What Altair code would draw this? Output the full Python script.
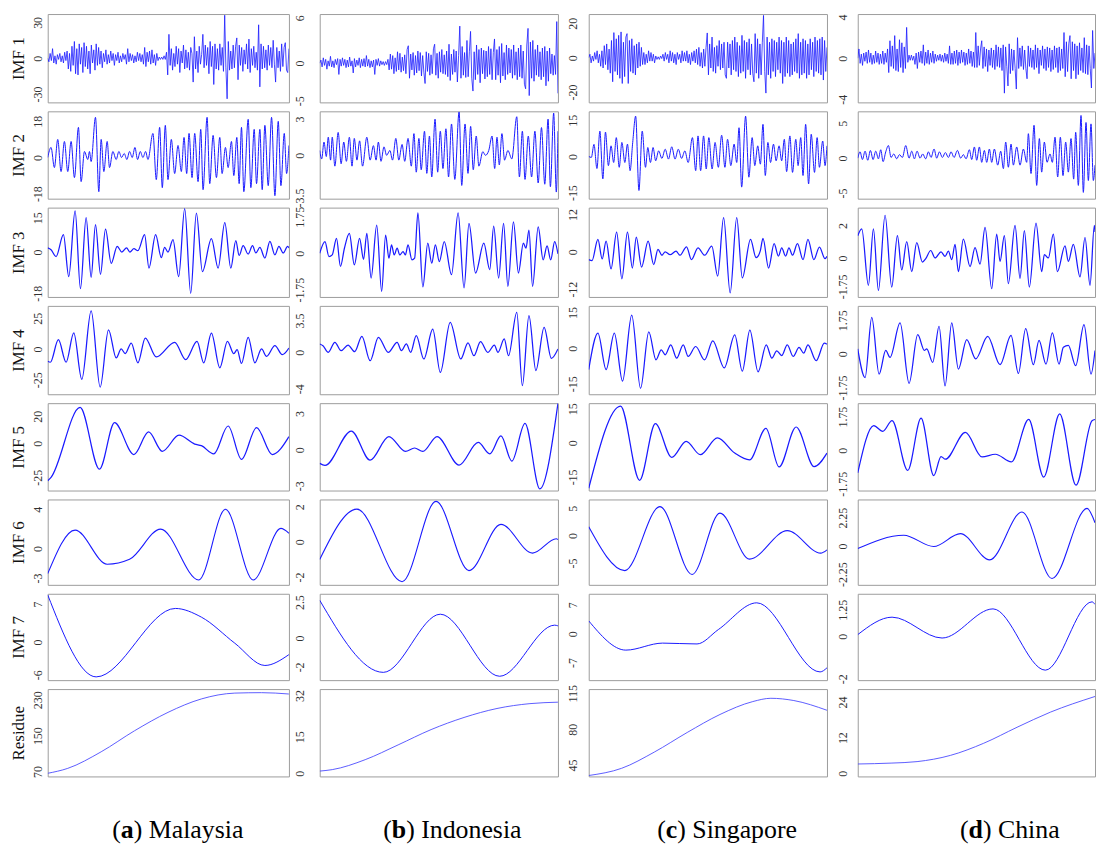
import altair as alt
import pandas as pd

# ---------------- Malaysia ----------------
MY_IMF1 = [0, -3, 4, -2, 8, -4, 2, -5, 3, -1, 4, -3, 2, -4, 5, -2, 6, -9, 4, -11,
           10, -6, 14, -13, 8, -14, 12, -5, 9, -12, 13, -7, 10, -9, 6, -13, 11, -4, 7, -10,
           12, -6, 9, -5, 6, -8, 4, -3, 7, -5, 3, -4, 6, -2, 4, -6, 3, -2, 5, -4,
           2, -3, 4, -1, 3, -5, 8, -3, 4, -2, 3, -4, 2, -3, 5, -2, 4, -3, 3, -5,
           9, -7, 5, -3, 6, -5, 7, -4, 3, -6, 4, -2, 1, -1, 1, -1, 2, -1, 5, -14,
           20, -6, 8, -10, 4, -7, 10, -5, 8, -12, 6, -4, 11, -9, 7, -8, 5, -10, 9, 4,
           -20, 18, -9, 6, -12, 10, -5, 3, 20, -8, 11, -6, 9, -13, 14, -7, 10, -22, 12, -9,
           8, -10, 12, -6, 9, -11, 36, -8, -34, 14, -10, 6, -9, 11, -8, 10, 17, -18, 11, -6,
           9, -11, 7, -5, 12, -9, 16, -12, 8, -6, 10, -8, 5, -10, 28, -24, 12, -9, 10, -8,
           7, -10, 11, -6, 9, -8, 15, -5, -20, 9, -8, 6, -11, 12, -7, 9, 13, -10, -12, 8]
MY_IMF2 = [(0, 0), (10, 5), (20, -5), (30, 9), (40, -7), (50, 8), (60, -7), (70, 8), (80, -10),
           (92, 15), (100, -12), (110, 3), (120, -1), (125, 3), (130, -2), (143, 20), (153, -17),
           (160, 9), (168, -7), (178, 8), (185, -5), (195, 3), (205, -1), (213, 3), (221, 0),
           (229, 2), (237, -1), (245, 3), (253, 0), (261, 5), (269, -1), (277, 3), (285, 0),
           (293, 3), (300, -1), (315, 12), (325, -11), (335, 15), (343, -15), (352, 16), (360, -11),
           (370, 9), (380, -8), (390, 6), (400, -7), (408, 10), (416, -8), (423, 12), (432, -10),
           (440, 12), (450, -12), (458, 14), (465, -16), (477, 20), (485, -13), (495, 11), (505, -10),
           (515, 10), (522, -8), (532, 5), (540, -5), (550, 8), (557, -9), (566, 10), (573, -13),
           (580, 15), (587, -17), (600, 19), (608, -15), (618, 14), (625, -13), (635, 14), (642, -16),
           (650, 16), (660, -14), (670, 20), (680, -19), (690, 18), (698, -14), (708, 12), (715, -8),
           (722, 6)]
MY_IMF3 = [(0, 1.8), (10, 1), (25, -2), (47, 7.6), (63, -10.7), (82, 18), (98, -16), (115, 15),
           (130, -11), (143, 12), (158, -9.7), (173, 10), (190, -4.9), (208, 2.5), (222, 0), (236, 1.8),
           (246, 0), (258, 1.5), (270, 0.6), (290, 7.6), (303, -7), (323, 7.6), (340, -2.4), (350, 2),
           (360, 0), (375, 5.4), (392, -10.7), (410, 19), (428, -18), (445, 17), (463, -8.5), (490, 5.9),
           (510, -7), (530, 12.8), (548, -7), (563, 5), (573, -1.5), (585, 2.8), (600, -0.9), (613, 2.8),
           (623, -0.4), (635, 2), (650, -2.6), (665, 4.7), (680, -1.2), (692, 2.5), (705, -0.4),
           (718, 2.5), (722, 1.8)]
MY_IMF4 = [(0, -10), (8, -10.8), (32, 7.5), (55, -10.8), (78, 13), (102, -24.7), (130, 31), (157, -31),
           (182, 15.6), (205, -7.3), (220, 0), (232, -3.8), (250, 4.8), (270, -11.3), (292, 8.9),
           (325, -6.5), (380, 5.4), (413, -8.6), (447, 6.2), (467, -11.3), (490, 12.9), (515, -15.3),
           (538, 6.2), (557, -3.8), (567, -0.5), (580, -11.8), (600, 9.4), (620, -11.3), (640, 0),
           (655, -6), (680, 2.7), (702, -4.6), (722, 0.8)]
MY_IMF5 = [(0, -27.5), (10, -25), (97, 26.5), (155, -19), (200, 15.2), (258, -8.2), (302, 8.4),
           (343, -5.8), (393, 6), (440, -0.5), (460, -1.7), (497, -7.7), (540, 12.8), (580, -11.8),
           (625, 11.6), (672, -8.2), (722, 5)]
MY_IMF6 = [(0, -2.56), (82, 1.88), (178, -1.6), (245, -1.1), (338, 1.98), (452, -3.2), (532, 4.0),
           (615, -3.2), (698, 2.05), (722, 1.56)]
MY_IMF7 = [(0, 8.7), (145, -6.4), (382, 6.2), (460, 4.6), (560, -0.2), (650, -4.3), (722, -2.3)]
MY_RES = [(0, 66), (60, 77), (160, 114), (260, 161), (360, 202), (460, 232), (560, 245), (640, 246),
          (722, 243)]
MY_TICKS = [[-30, 0, 30], [-18, 0, 18], [-18, 0, 15], [-25, 0, 25], [-25, 0, 20], [-3, 0, 4],
            [-6, 0, 7], [70, 150, 230]]
MY_YDOM = [[-37, 37], [-20.5, 23], [-19.6, 19.4], [-36.8, 35], [-34.7, 29.6], [-3.7, 5.0],
           [-7.0, 8.9], [59, 254]]
MY_TSPAN = 722

# ---------------- Indonesia ----------------
ID_IMF1 = [0, 0.4, -0.5, 0.7, -0.3, 0.5, -0.8, 0.3, -0.4, 0.9, -0.5, 0.3, -0.6, 0.5, -0.2, 0.6, -1.5, 0.5, -0.4, 0.7,
           -0.3, 0.5, -0.6, 0.4, -0.5, 0.8, -0.4, 0.3, -1.3, 0.6, -0.5, 0.4, -0.3, 0.7, -0.6, 0.5, -0.4, 0.6, -0.5, 1.0,
           -0.4, 0.5, -0.6, 0.3, -0.5, 0.4, -1.5, 0.5, -0.3, 0.6, -0.4, 0.3, -0.2, 0.2, -0.3, 0.2, -0.2, 0.5, -0.9, 1.2,
           -0.8, 1.0, -1.4, 0.7, -1.1, 1.5, -0.9, 1.3, -1.2, 0.8, -1.0, 1.1, -1.4, 1.8, 2.3, -2.0, 1.2, -0.9, 1.4, -1.6,
           1.0, -1.3, 1.6, -1.0, 1.4, -1.7, 1.0, -1.2, -2.7, 1.5, -1.1, 1.3, -1.6, 1.1, -1.4, 1.9, 2.5, -1.6, 1.3, -2.0,
           1.5, -1.2, 1.8, -1.4, 1.1, -1.5, 1.6, -1.8, 2.5, -2.3, 1.2, -1.5, 1.8, -1.2, 1.6, -2.5, 1.0, 4.9, -2.0, 2.2,
           -1.6, 1.4, -1.9, 3.0, -1.8, 1.5, 4.2, -2.0, -3.7, 1.5, -2.2, 2.4, -1.5, 1.8, -2.6, 2.0, -1.4, 1.7, -2.1, 1.6,
           -1.8, 2.2, -1.5, 1.9, -2.2, 1.4, 3.2, -2.2, 1.8, -1.6, 2.2, -2.6, 2.6, -1.7, 1.4, -2.2, 2.4, -1.5, 2.0, -1.3,
           1.8, -2.0, 2.4, -1.6, 1.5, -2.2, 2.0, -1.8, 2.4, -2.0, 1.6, -2.8, -3.4, 2.4, 4.6, -4.3, 2.8, -2.0, 3.0, -2.4,
           1.8, -1.6, 2.4, -1.8, 1.5, -2.2, 2.0, -1.8, 2.2, -3.0, 1.6, -2.4, 2.0, -1.4, 1.2, -1.6, 1.0, -1.5, 5.5, -4.0]
ID_IMF2 = [(0, 0.4), (6, -0.3), (13, 1.1), (20, -0.1), (26, 1.5), (33, -0.4), (38, 1.5), (46, -0.9),
           (56, 1.9), (65, -0.7), (73, 1.1), (81, -0.5), (90, 1.5), (98, -0.9), (105, 1.4), (113, -0.4),
           (121, 1.2), (130, -0.9), (143, 1.5), (153, -0.4), (163, 0.8), (171, -0.4), (178, 1.1),
           (186, -0.5), (195, 0.7), (203, 0), (213, 0.4), (221, -0.4), (231, 1.4), (240, -0.4),
           (250, 0.9), (258, -0.5), (268, 1.4), (278, -0.9), (286, 1.8), (293, -1.4), (301, 1.4),
           (308, -1.2), (318, 2.0), (325, -1.5), (333, 1.6), (340, -1.8), (350, 3.0), (358, -1.4),
           (366, 2.0), (374, -1.1), (383, 2.2), (391, -1.8), (400, 2.6), (410, -2.0), (423, 3.6),
           (431, -2.5), (441, 2.6), (450, -1.5), (458, 2.4), (466, -1.2), (475, 1.6), (483, -0.9),
           (495, 0.3), (503, 0), (513, 0.4), (523, 1.6), (531, -1.1), (538, 1.5), (545, -0.8),
           (553, 1.8), (561, -0.4), (571, 0.4), (583, -0.3), (598, 3.2), (606, -1.8), (615, 2.0),
           (623, -2.0), (633, 1.6), (643, -1.8), (653, 2.0), (663, -2.3), (673, 2.3), (683, -2.4),
           (693, 3.0), (700, -2.6), (710, 3.5), (718, -3.05), (723, 2.0)]
ID_IMF3 = [(0, 0), (16, 0.56), (28, -0.16), (38, -0.08), (51, 0.71), (63, -0.63), (75, 0.24),
           (90, 0.95), (105, -0.56), (121, 0.71), (133, -0.29), (143, 0.95), (156, -1.19), (173, 1.35),
           (188, -1.83), (200, 0.87), (210, -0.24), (218, 0.4), (226, -0.08), (235, 0.24), (243, -0.08),
           (253, 0.08), (260, -0.08), (268, 0.4), (280, -0.32), (288, -0.24), (298, 1.94), (313, -1.62),
           (328, 0.48), (340, -0.48), (351, 0.4), (363, -0.4), (378, 0.56), (400, -1.03), (420, 1.94),
           (438, -1.67), (453, 1.43), (473, -0.95), (498, 0.48), (516, -0.79), (528, 1.3), (543, -1.19),
           (558, 1.43), (571, -1.59), (588, 1.51), (603, -0.95), (618, 0.48), (626, 0.24), (635, 1.11),
           (646, -1.59), (663, 1.27), (678, -0.32), (690, 0.35), (701, -0.32), (713, 0.56), (723, -0.03)]
ID_IMF4 = [(0, 0.92), (10, 0.73), (26, 0), (46, 1.1), (65, 0.18), (86, 0.8), (106, 0.07), (128, 1.76),
           (153, -0.92), (178, 1.65), (208, 0), (235, 1.1), (248, 0.18), (263, 0.92), (276, 0),
           (293, 1.83), (316, -0.73), (343, 2.56), (366, -2.2), (396, 3.3), (428, -0.73), (450, 1.03),
           (468, -0.37), (488, 1.17), (510, 0), (530, 0.8), (541, 0), (560, 1.47), (573, -0.37),
           (598, 4.4), (615, -3.66), (635, 4.03), (656, -2.0), (681, 2.75), (703, -0.66), (723, 0.37)]
ID_IMF5 = [(0, -1.14), (16, -1.31), (96, 1.55), (153, -0.87), (210, 1.09), (260, -0.14), (288, 0.14),
           (313, -0.14), (356, 1.09), (423, -1.28), (481, 0.6), (516, -0.35), (550, 1.14), (583, -0.95),
           (623, 2.18), (668, -3.27), (723, 3.85)]
ID_IMF6 = [(0, -1.0), (113, 1.87), (250, -2.27), (353, 2.31), (453, -1.64), (550, 1.0), (646, -0.64),
           (718, 0.18), (723, 0.13)]
ID_IMF7 = [(0, 2.63), (193, -2.38), (366, 1.66), (546, -2.65), (713, 0.9), (723, 0.85)]
ID_RES = [(0, 0.9), (38, 1.5), (138, 5.6), (238, 11.7), (338, 18), (438, 23), (538, 26.7), (638, 28.7),
          (723, 29.3)]
ID_TICKS = [[-5, 0, 6], [-3.5, 0, 3], [-1.75, 0, 1.75], [-4, 0, 3.5], [-3, 0, 3], [-2, 0, 2],
            [-2, 0, 2.5], [0, 15, 32]]
ID_YDOM = [[-5.2, 6.5], [-3.6, 3.65], [-2.1, 2.19], [-4.6, 5.1], [-3.4, 3.87], [-2.45, 2.42],
           [-2.92, 3.08], [-1.3, 34.7]]
ID_TSPAN = 723

# ---------------- Singapore ----------------
SG_IMF1 = [0, 2, -3, 1, -2, 3, -1, 4, -3, 2, -5, 4, -6, 7, -4, 8, -7, 5, -9, 10,
           -14, 14.6, -8, 11, -10, 13, -12, 15, -15, 9, -11, 12, 14, -15, 10, -8, 11, -9, 7, -10,
           8, -6, 9, -5, 6, -4, 3, -4, 2, -3, 4, -2, 3, -2, 2, -3, 1, -1, 0.5, -1,
           1, -0.5, 2, -2, 3, -1, 2, -3, 4, -2, 3, -3, 2, -4, 3, -1, 2, -3, 4, -2,
           3, -2, 4, -3, 2, -4, 3, -2, 4, -3, 5, -4, 6, -5, 3, -6, 5, -5, 6, 14.4,
           -10, 8, -6, 12, -8, 6, -9, 7, -5, 10, -7, 8, -6, 9, -10, -12, 9, -6, 8, -10,
           10, -7, 12, -8, 9, -11, 7, -9, 13, -8, 10, -12, 9, -7, 11, -10, 8, -9, -14, 14,
           -9, 11, -12, 8, -10, 9, 24.6, -8, -20.6, 12, -10, 9, -12, 11, -8, 10, -11, 9, -7, 12,
           -9, 10, -15, 9, -11, 12, -9, 10, -11, 8, -10, 9, -8, 11, -9, 14, -12, 9, -10, 11,
           -9, 10, -12, 8, -10, 11, -7, 9, -11, 12, -8, 10, -9, 11, -10, 12, -13, 10, -8, 6]
SG_IMF2 = [(0, 0), (8, -0.4), (16, 5), (25, -5), (34, 10.5), (43, -9.3), (51, 10.1), (60, -3.8),
           (68, 4.4), (76, -2.5), (84, 7.8), (93, -4.5), (101, 5.8), (110, -2.5), (118, 5.1), (126, -5.9),
           (134, 5.8), (143, 16.7), (153, -14.1), (163, 10.5), (173, -4.5), (180, 3.7), (188, -2.5),
           (196, 3.7), (204, -1.8), (213, 2.3), (223, -0.8), (233, 3), (243, -1.1), (253, 4),
           (263, -1.1), (273, 3), (283, -0.8), (293, 2.3), (303, -2.5), (316, 7.8), (326, -5.9),
           (333, 8.5), (341, -5.9), (350, 8.5), (358, -5.2), (366, 7.8), (376, -5.2), (385, 5.8),
           (395, -4.5), (405, 8.8), (415, -4.5), (423, 7.1), (433, -3.8), (443, 5.1), (451, -2.5),
           (458, 11.9), (466, -12.7), (478, 16.7), (488, -8.6), (498, 7.8), (506, -3.8), (515, 4.4),
           (523, -3.2), (531, 13.3), (538, -7.9), (546, 5.8), (554, -2.5), (563, 5.1), (571, -1.8),
           (580, 4.4), (588, -1.8), (596, 7.1), (603, -6.3), (613, 8.5), (621, -6.6), (631, 7.1),
           (638, -3.8), (646, 7.8), (653, -7.9), (661, 13.3), (670, -11.4), (678, 9.2), (688, -6.6),
           (696, 7.8), (703, -4.5), (713, 6.4), (720, -3.8), (726, 4.4)]
SG_IMF3 = [(0, -2.5), (10, -2.8), (28, 4), (41, -2.3), (53, 3.4), (68, -5.5), (85, 6.3), (101, -8.7),
           (118, 6.3), (133, -5.2), (145, 4.7), (161, -4.9), (181, 3.4), (198, -4.1), (211, 0.8),
           (223, -1.1), (233, 0), (248, -0.9), (266, 0.2), (278, -1.1), (298, 1.6), (313, -2.5),
           (333, 1.3), (353, -1.1), (375, 1.8), (393, -7.8), (411, 11), (431, -13.2), (451, 11),
           (468, -8.4), (493, 4), (510, -1.9), (523, 0.4), (531, 4.3), (548, -5.2), (565, 2.6),
           (578, -1.4), (588, 1.3), (600, -1.4), (610, 1.3), (621, -1.1), (636, 2.6), (653, -2.5),
           (668, 4), (686, -2.5), (703, 1.5), (720, -2.2), (726, -1.4)]
SG_IMF4 = [(0, -9), (28, 6.3), (53, -9), (78, 6.3), (103, -13.9), (131, 13.9), (158, -16.9),
           (183, 6.9), (205, -4.9), (221, -0.7), (233, -2.8), (250, 1.4), (268, -4.2), (288, 1.4),
           (303, -3.5), (326, 0.7), (353, -4.9), (378, 3.1), (413, -8.3), (445, 5.6), (468, -9.7),
           (491, 7.6), (516, -10), (541, 1.4), (558, -4.2), (573, -1.1), (588, -3.1), (605, 1.4),
           (623, -3.5), (641, 0.3), (655, -2.1), (668, 1.4), (693, -5.3), (718, 2.1), (726, 1.7)]
SG_IMF5 = [(0, -20), (97, 16.2), (155, -16.5), (203, 8.5), (253, -6.4), (297, 0.7), (340, -5.2),
           (392, 2.2), (445, -4.5), (490, -7.5), (540, 6.4), (580, -10.6), (632, 7), (687, -10.5),
           (726, -4.5)]
SG_IMF6 = [(0, 1.6), (110, -6.4), (217, 5.3), (315, -7.1), (400, 4.1), (490, -4.3), (605, 0.9),
           (707, -3.2), (726, -2.6)]
SG_IMF7 = [(0, 3.1), (113, -4.0), (225, -2.3), (330, -2.5), (395, 1.0), (512, 7.5), (705, -9.3),
           (726, -8.3)]
SG_RES = [(0, 34.8), (100, 41.8), (200, 57.7), (300, 76.8), (400, 94.4), (500, 107), (555, 110.2),
          (625, 108), (726, 98.5)]
SG_TICKS = [[-20, 0, 20], [-15, 0, 15], [-12, 0, 12], [-15, 0, 15], [-15, 0, 15], [-5, 0, 5],
            [-7, 0, 7], [45, 80, 115]]
SG_YDOM = [[-26, 25.4], [-17.5, 18.7], [-14.5, 14.2], [-19.4, 17.8], [-21, 17.5], [-9, 6.6],
           [-11.3, 9.7], [33.9, 119.2]]
SG_TSPAN = 726

# ---------------- China ----------------
CN_IMF1 = [0, 0.9, -0.5, 0.4, -0.7, 0.5, -0.3, 0.6, -0.5, 0.8, -0.4, 0.5, -0.6, 0.3, -0.5, 0.7, -0.4, 0.5, -0.6, 0.4,
           -0.5, 0.7, -0.6, 0.5, -0.4, 0.9, -1.4, 1.7, -0.8, 1.2, -1.0, 2.2, -1.2, 0.9, -1.3, 1.8, -0.9, 1.5, -1.4, 1.1,
           -1.0, 3.0, -0.4, 0.3, -0.2, 0.3, -0.2, 0.2, -0.6, 0.5, -1.0, 0.6, -0.4, 0.7, -0.5, 1.3, -0.7, 0.6, -0.5, 0.8,
           -0.6, 0.5, -0.4, 0.7, -0.5, 0.4, -0.3, 0.3, -0.2, 0.4, -0.3, 0.3, -0.4, 0.5, -0.3, 0.4, -0.5, 1.2, -0.6, 0.5,
           -0.6, 0.7, -0.5, 0.8, -0.7, 0.6, -0.5, 0.8, -0.4, 0.6, -0.7, 0.5, -0.6, 0.9, -0.5, 0.7, -0.8, 0.6, -0.9, 2.5,
           -0.9, 1.2, -0.7, 0.9, 1.7, -1.0, 1.1, -0.8, 0.9, -1.3, 0.8, -0.7, 1.0, -0.9, 0.8, -1.1, 1.3, -0.8, 1.1, -0.9,
           1.0, -1.2, 1.3, -3.4, 1.1, -0.8, -2.7, 1.4, -1.5, 0.9, -1.2, 0.8, -1.0, -3.0, 2.0, -1.0, 1.0, -0.8, 1.2, -1.1,
           0.8, -1.0, -2.0, 1.2, -0.8, 1.0, -0.9, 0.8, -1.1, 1.3, -0.9, 1.0, -1.5, 0.8, -0.7, 1.2, -1.0, 0.9, -1.2, 1.1,
           -0.9, 1.0, -1.3, 0.8, -1.1, 1.2, -0.9, 1.0, -1.4, 1.1, -1.2, 0.9, -1.0, 2.5, -1.8, 1.6, -1.3, 1.4, 2.2, -2.0,
           1.6, -1.2, 1.4, -2.0, 1.2, -1.6, 1.5, -1.2, 1.0, -1.4, 2.0, -1.5, 1.3, -1.6, 1.2, -1.0, -2.9, 2.7, -1.0, 0.5]
CN_IMF2 = [(0, 0), (7, 0.9), (14, -0.2), (22, 1.0), (30, -0.3), (38, 1.1), (46, -0.2), (54, 1.0),
           (62, -0.1), (69, 1.2), (76, -0.5), (84, 0.9), (92, 1.8), (100, 0.1), (108, 0.6), (117, -0.1),
           (125, 0.5), (134, 0.1), (144, 1.8), (154, 0), (162, 1.0), (170, -0.1), (178, 1.0), (187, 0),
           (195, 0.6), (204, -0.1), (212, 0.9), (220, 0.1), (229, 1.3), (237, 0), (245, 0.9), (254, 0.1),
           (263, 0.8), (272, 0.1), (280, 0.9), (289, 0.1), (299, 1.1), (309, 0), (317, 0.5), (325, -0.1),
           (335, 1.2), (342, -0.2), (350, 1.6), (357, -0.3), (365, 1.6), (372, -0.6), (380, 1.1),
           (387, -0.6), (395, 1.3), (402, -0.6), (410, 1.3), (420, -1.0), (429, 1.0), (437, -1.5),
           (444, 2.3), (452, -1.3), (460, 2.0), (467, -1.0), (477, 1.6), (487, -1.0), (497, 1.3),
           (507, -0.6), (512, 3.5), (520, -2.2), (529, 4.7), (537, -3.9), (545, 2.8), (552, -2.0),
           (560, 2.3), (568, -0.6), (577, 0.6), (584, -0.6), (592, 3.0), (600, -2.7), (608, 3.0),
           (616, -2.5), (624, 2.3), (632, -2.0), (640, 2.8), (648, -3.0), (654, 3.7), (662, -3.9),
           (670, 6.1), (677, -4.9), (685, 5.1), (692, -3.2), (700, 4.9), (707, -3.2), (712, -1.0)]
CN_IMF3 = [(0, 1.37), (12, 1.79), (32, -1.68), (47, 1.79), (62, -2.0), (82, 2.63), (102, -1.79),
           (119, 1.37), (132, -0.74), (147, 1.0), (162, -0.84), (177, 0.95), (194, -0.25), (204, -0.04),
           (219, 0.46), (232, 0), (250, 0.38), (262, 0.1), (272, 0.42), (282, -0.1), (292, 0.84),
           (302, -0.84), (317, 1.16), (337, -0.53), (352, 0.63), (367, -0.38), (382, 1.89), (402, -1.89),
           (417, 1.47), (427, -0.21), (440, 1.37), (452, -1.58), (472, 2.0), (487, -1.26), (500, 1.68),
           (515, -1.79), (535, 2.15), (552, -0.84), (560, 0.21), (572, 0), (587, 1.47), (599, -0.84),
           (622, 0.74), (632, -0.21), (647, 0.84), (667, -1.16), (682, 1.26), (697, -1.68), (710, 2.0),
           (712, 1.6)]
CN_IMF4 = [(0, 0.26), (22, -1.23), (42, 1.9), (64, -1.05), (84, 0.18), (97, -0.18), (127, 1.61),
           (154, -1.53), (180, 1.0), (200, 0.18), (207, 0.26), (225, -0.44), (244, 1.44), (262, -1.67),
           (282, 1.61), (302, -0.79), (327, 0.74), (354, -0.26), (390, 0.91), (427, -0.56), (460, 0.96),
           (482, -1.02), (504, 1.32), (527, -0.56), (544, 0.7), (565, -0.53), (584, 1.09), (604, -0.53),
           (617, 0.35), (632, 0.44), (654, -0.61), (679, 1.53), (700, -1.05), (712, 0.18)]
CN_IMF5 = [(0, -1.18), (48, 1.28), (75, 0.98), (103, 1.54), (150, -1.05), (190, 1.67), (228, -1.32),
           (250, -0.33), (263, -0.47), (323, 0.93), (373, -0.35), (413, -0.21), (461, -0.61), (513, 1.6),
           (558, -1.4), (606, 1.89), (655, -1.82), (703, 1.54), (712, 1.6)]
CN_IMF6 = [(0, -0.21), (138, 0.85), (228, -0.05), (308, 0.98), (396, -1.11), (493, 2.7), (583, -2.6),
           (688, 2.99), (712, 1.85)]
CN_IMF7 = [(0, 0.08), (103, 0.9), (253, -0.08), (406, 1.29), (563, -1.59), (703, 1.62), (712, 1.5)]
CN_RES = [(0, 3.1), (100, 3.4), (178, 3.9), (278, 6.0), (378, 10.1), (478, 15.5), (578, 20.6),
          (712, 25.9)]
CN_TICKS = [[-4, 0, 4], [-5, 0, 5], [-1.75, 0, 2], [-1.75, 0, 1.75], [-1.75, 0, 1.75], [-2.25, 0, 2.25],
            [-2, 0, 1.25], [0, 12, 24]]
CN_YDOM = [[-4.3, 4.3], [-5.8, 6.7], [-2.4, 3.1], [-2.1, 2.5], [-2.1, 2.45], [-3.1, 3.7],
           [-2.06, 2.0], [-1.1, 28.4]]
CN_TSPAN = 712

ROW_NAMES = ["IMF 1", "IMF 2", "IMF 3", "IMF 4", "IMF 5", "IMF 6", "IMF 7", "Residue"]
LETTERS = ["a", "b", "c", "d"]
COUNTRIES = ["Malaysia", "Indonesia", "Singapore", "China"]

COLUMNS = [
    ([MY_IMF1, MY_IMF2, MY_IMF3, MY_IMF4, MY_IMF5, MY_IMF6, MY_IMF7, MY_RES], MY_TICKS, MY_YDOM, MY_TSPAN),
    ([ID_IMF1, ID_IMF2, ID_IMF3, ID_IMF4, ID_IMF5, ID_IMF6, ID_IMF7, ID_RES], ID_TICKS, ID_YDOM, ID_TSPAN),
    ([SG_IMF1, SG_IMF2, SG_IMF3, SG_IMF4, SG_IMF5, SG_IMF6, SG_IMF7, SG_RES], SG_TICKS, SG_YDOM, SG_TSPAN),
    ([CN_IMF1, CN_IMF2, CN_IMF3, CN_IMF4, CN_IMF5, CN_IMF6, CN_IMF7, CN_RES], CN_TICKS, CN_YDOM, CN_TSPAN),
]

# ---------------- layout / style ----------------
SERIF = "Liberation Serif"
LINE_COLOR = "#1a1aff"
ROW_STYLE = [(0.8, "linear"), (1.0, "monotone"), (1.25, "monotone"), (1.25, "monotone"),
             (1.25, "monotone"), (1.1, "monotone"), (1.0, "monotone"), (0.9, "monotone")]
HEIGHTS = [89, 88, 90, 89, 88, 86, 87, 88]
WIDTHS = [243, 240, 240, 239]
LABEL_PAD = [6, 16, 12, 11]
CAP_X = [65, 64, 69, 103]
CAP_SIZE = 26
LETTER_W = [0.5 * CAP_SIZE, 0.556 * CAP_SIZE, 0.444 * CAP_SIZE, 0.556 * CAP_SIZE]
PAREN_W = 0.333 * CAP_SIZE


def make_panel(series, tspan, ydom, ticks, row, col):
    if isinstance(series[0], (int, float)):
        df = pd.DataFrame({"t": list(range(len(series))), "v": series})
        span = len(series) - 1
    else:
        df = pd.DataFrame(series, columns=["t", "v"])
        span = tspan
    sw, interp = ROW_STYLE[row]
    color = "#4a4aff" if row == 7 else LINE_COLOR
    axis_kw = dict(values=ticks, labelExpr="'' + datum.value", labelAngle=270, labelAlign="center",
                   labelBaseline="alphabetic", labelPadding=LABEL_PAD[col], labelFont=SERIF,
                   labelFontSize=12, labelColor="#333333", ticks=False, domain=False, grid=False,
                   minExtent=16, maxExtent=16)
    if col == 0:
        axis = alt.Axis(titleFont=SERIF, titleFontSize=17, titleFontWeight="normal",
                        titleColor="#111111", titlePadding=8, titleBaseline="alphabetic", **axis_kw)
        ytitle = ROW_NAMES[row]
    else:
        axis = alt.Axis(**axis_kw)
        ytitle = None
    return alt.Chart(df).mark_line(color=color, strokeWidth=sw, interpolate=interp, clip=True).encode(
        x=alt.X("t:Q", scale=alt.Scale(domain=[0, span], nice=False, zero=False), axis=None),
        y=alt.Y("v:Q", scale=alt.Scale(domain=ydom, nice=False, zero=False), axis=axis, title=ytitle),
    ).properties(width=WIDTHS[col], height=HEIGHTS[row])


def make_caption(i):
    df = pd.DataFrame({"k": [0]})
    base = alt.Chart(df)
    common = dict(font=SERIF, fontSize=CAP_SIZE, align="left", baseline="alphabetic", color="#000000")
    x0 = CAP_X[i]
    p1 = base.mark_text(text="(", **common).encode(x=alt.value(x0), y=alt.value(53))
    p2 = base.mark_text(text=LETTERS[i], fontWeight="bold", **common).encode(
        x=alt.value(x0 + PAREN_W), y=alt.value(53))
    p3 = base.mark_text(text=") " + COUNTRIES[i], **common).encode(
        x=alt.value(x0 + PAREN_W + LETTER_W[i]), y=alt.value(53))
    return alt.layer(p1, p2, p3).properties(width=WIDTHS[i], height=40,
                                            view=alt.ViewBackground(strokeOpacity=0))


cells = []
for row in range(8):
    for col in range(4):
        series_list, ticks, ydom, tspan = COLUMNS[col]
        cells.append(make_panel(series_list[row], tspan, ydom[row], ticks[row], row, col))
for i in range(4):
    cells.append(make_caption(i))

chart = alt.concat(
    *cells, columns=4, spacing={"row": 9, "column": 31}, bounds="flush", align="each"
).properties(
    padding={"left": 1, "top": 2, "right": 0, "bottom": 0}
).configure_view(stroke="#9c9c9c", strokeWidth=1)

chart.save("out.html", embed_options={"renderer": "svg", "actions": False})
